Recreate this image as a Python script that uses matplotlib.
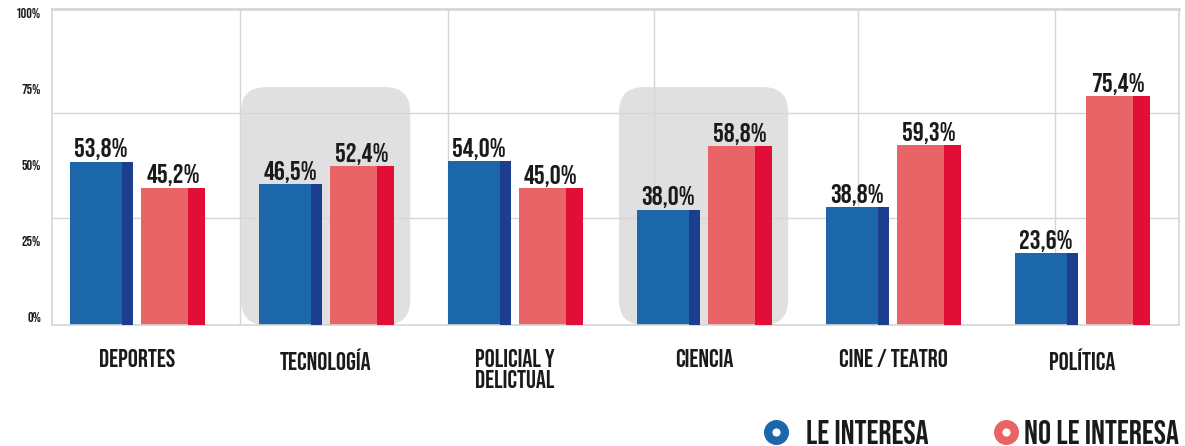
import matplotlib
matplotlib.use("Agg")
import matplotlib.pyplot as plt
import numpy as np
from matplotlib import font_manager as fm
from matplotlib.patches import FancyBboxPatch
from matplotlib.lines import Line2D
from matplotlib.transforms import ScaledTranslation

# data
categories = ["DEPORTES", "TECNOLOGÍA", "POLICIAL Y\nDELICTUAL", "CIENCIA", "CINE / TEATRO", "POLÍTICA"]
le_interesa = [53.8, 46.5, 54.0, 38.0, 38.8, 23.6]
no_le_interesa = [45.2, 52.4, 45.0, 58.8, 59.3, 75.4]
highlighted = [1, 3]  # groups with the grey rounded background
y_ticks = [0, 25, 50, 75, 100]
legend_labels = ["LE INTERESA", "NO LE INTERESA"]

# colors
blue, blue_dark = "#1b67aa", "#1d3e8e"
red, red_dark = "#e96466", "#e10f37"
grid_col = "#d6d6d6"
box_col = "#e0e0e0"
txt_col = "#1a1a1a"

# pick a condensed display font that is installed
installed = {f.name for f in fm.fontManager.ttflist}
candidates = ['Bebas Neue', 'Oswald', 'League Gothic', 'Fjalla One', 'Antonio', 'Liberation Sans Narrow']
font = next((c for c in candidates if c in installed), 'DejaVu Sans')
plt.rcParams['font.family'] = [font, 'DejaVu Sans']

fig = plt.figure(figsize=(11.85, 4.46), dpi=100)
ax = fig.add_axes([52/1185, 1 - 325/446, (1179 - 52)/1185, (325 - 9)/446])

x = np.arange(len(categories))
bar_w = 0.334
off = 0.19

# grey rounded boxes behind highlighted groups
for i in highlighted:
    box = FancyBboxPatch((i - 0.45, 0), 0.895, 78.3,
                         boxstyle="round,pad=0,rounding_size=0.132",
                         mutation_aspect=62.2, facecolor=box_col,
                         edgecolor="none", zorder=0.5)
    ax.add_patch(box)

# light grid lines
for gx in [0.545, 1.646, 2.735, 3.815, 4.857]:
    ax.axvline(gx, color=grid_col, lw=1, zorder=1)
for gy in [35.2, 69.7]:
    ax.axhline(gy, color=grid_col, lw=1, zorder=1)

# bars with darker right strip
ax.bar(x - off, le_interesa, width=bar_w, color=blue, zorder=2)
ax.bar(x - off + bar_w/2 - 0.029, le_interesa, width=0.058, color=blue_dark, zorder=3)
ax.bar(x + off, no_le_interesa, width=bar_w, color=red, zorder=2)
ax.bar(x + off + bar_w/2 - 0.045, no_le_interesa, width=0.09, color=red_dark, zorder=3)

# value labels
for xi, v in zip(x - off, le_interesa):
    ax.annotate(f"{v:.1f}%".replace(".", ","), (xi, v), xytext=(0, 3),
                textcoords="offset points", ha="center", va="baseline",
                fontsize=19.5, color=txt_col, zorder=4)
for xi, v in zip(x + off, no_le_interesa):
    ax.annotate(f"{v:.1f}%".replace(".", ","), (xi, v), xytext=(0, 3),
                textcoords="offset points", ha="center", va="baseline",
                fontsize=19.5, color=txt_col, zorder=4)

ax.set_xlim(-0.45, 5.513)
ax.set_ylim(0, 104)

ax.set_xticks(x)
ax.set_xticklabels(categories, fontsize=18, color=txt_col, linespacing=1.2,
                   multialignment="left")
ax.tick_params(axis="x", length=0, pad=17)

ax.set_yticks(y_ticks)
ax.set_yticklabels([f"{t}%" for t in y_ticks], fontsize=10, color=txt_col)
ax.tick_params(axis="y", length=0, pad=8)
for lab in ax.get_yticklabels():
    lab.set_transform(lab.get_transform() + ScaledTranslation(0, 8/100, fig.dpi_scale_trans))

for name, sp in ax.spines.items():
    sp.set_color(grid_col)
    sp.set_linewidth(1.2)
ax.spines["top"].set_linewidth(2)

# legend
ly = 1 - 432/446
for cx, tx, col, lab in [(776, 806, blue, legend_labels[0]), (1006, 1024, red, legend_labels[1])]:
    fig.add_artist(Line2D([cx/1185], [ly], marker="o", markersize=12, markeredgewidth=6,
                          markerfacecolor="white", markeredgecolor=col,
                          transform=fig.transFigure))
    fig.text(tx/1185, ly, lab, fontsize=23.5, color=txt_col, va="center", ha="left")

fig.savefig("out.png", dpi=100)
